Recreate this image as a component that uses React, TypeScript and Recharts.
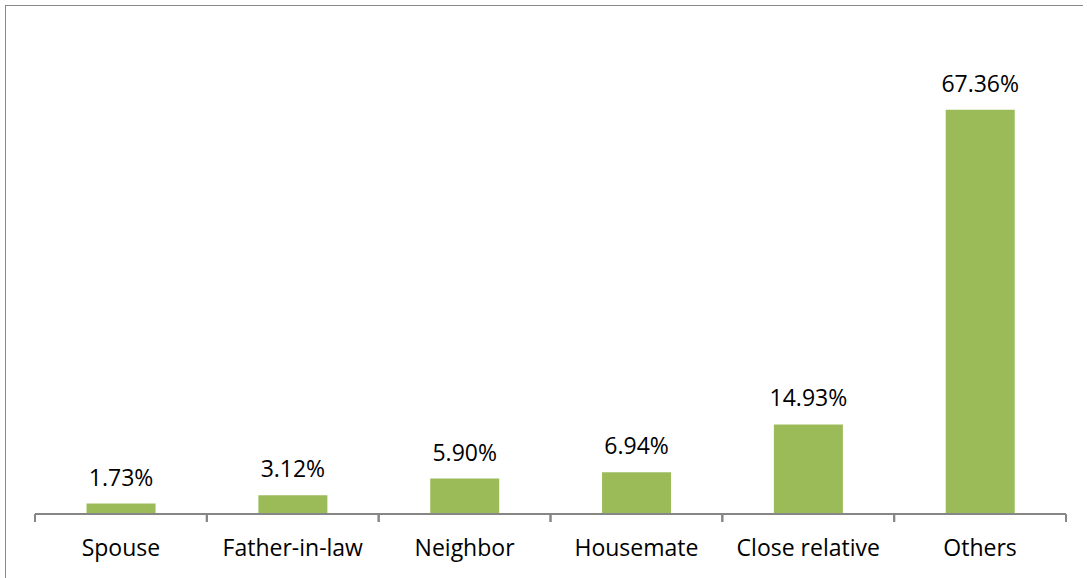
import React from "react";
import { BarChart, Bar, XAxis, YAxis, LabelList } from "recharts";

const categories = ["Spouse", "Father-in-law", "Neighbor", "Housemate", "Close relative", "Others"];
const shares = [1.73, 3.12, 5.9, 6.94, 14.93, 67.36];

const data = categories.map((name, i) => ({ name, value: shares[i] }));

const FONT = "'Open Sans', 'Noto Sans', sans-serif";
const AXIS_GRAY = "#868686";

const CategoryTick = (props: any) => {
  const { x, y, payload } = props;
  const ay = y - 6;
  const half = payload && typeof payload.offset === "number" && payload.offset > 0 ? payload.offset : 171.8 / 2;
  return (
    <g>
      <line x1={x - half} x2={x - half} y1={ay} y2={ay + 8} stroke={AXIS_GRAY} strokeWidth={2} />
      <line x1={x + half} x2={x + half} y1={ay} y2={ay + 8} stroke={AXIS_GRAY} strokeWidth={2} />
      <text x={x} y={ay + 26} dy="0.71em" textAnchor="middle" fill="#000" fontSize={23} fontFamily={FONT}>
        {payload.value}
      </text>
    </g>
  );
};

export default function App() {
  return (
    <div style={{ position: "absolute", left: 0, top: 0, width: 1087, height: 578, background: "#fff", overflow: "hidden" }}>
      <div style={{ position: "absolute", left: 5, top: 5, width: 1077, height: 600, borderLeft: "1px solid #888", borderTop: "1px solid #888" }} />
      <div style={{ position: "absolute", left: 0, top: 0 }}>
        <BarChart
          width={1087}
          height={578}
          data={data}
          margin={{ top: 34, right: 21, bottom: 0, left: 35 }}
          barCategoryGap="30%"
        >
          <XAxis
            dataKey="name"
            height={64}
            axisLine={{ stroke: AXIS_GRAY, strokeWidth: 2 }}
            tickLine={false}
            tickSize={6}
            tickMargin={0}
            tick={(p: any) => <CategoryTick {...p} />}
            interval={0}
          />
          <YAxis hide domain={[0, 80]} type="number" />
          <Bar dataKey="value" fill="#9BBB59" isAnimationActive={false}>
            <LabelList
              dataKey="value"
              position="top"
              offset={18}
              formatter={(v: any) => `${Number(v).toFixed(2)}%`}
              style={{ fontFamily: FONT, fontSize: 23, fill: "#000" }}
            />
          </Bar>
        </BarChart>
      </div>
    </div>
  );
}
